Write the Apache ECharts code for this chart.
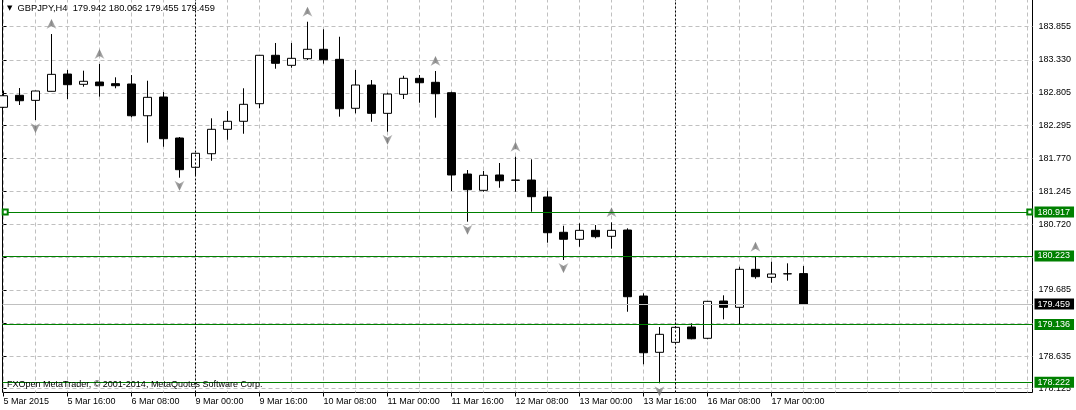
<!DOCTYPE html>
<html><head><meta charset="utf-8">
<script src="https://cdn.jsdelivr.net/npm/echarts@6/dist/echarts.min.js"></script>
<style>html,body{margin:0;padding:0;background:#fff}#c{width:1076px;height:410px}</style>
</head><body><div id="c"></div>
<script>
// ---- data (GBPJPY H4, bar 0 = 5 Mar 2015 00:00) ----
const symbolName = 'GBPJPY,H4';
const open  = [182.578,182.768,182.688,182.831,183.105,182.942,182.978,182.952,182.947,182.444,182.741,182.091,181.627,181.842,182.229,182.356,182.635,183.402,183.243,183.348,183.497,183.338,182.562,182.931,182.482,182.784,183.037,182.974,182.809,181.520,181.262,181.505,181.425,181.425,181.156,180.597,180.486,180.628,180.533,180.633,179.587,178.695,178.853,179.096,178.917,179.508,179.408,180.010,179.883,179.938,179.942];
const high  = [182.841,182.883,182.840,183.739,183.169,183.158,183.264,183.053,183.089,182.999,182.820,182.107,181.853,182.403,182.519,182.879,183.406,183.597,183.597,183.934,183.814,183.696,183.169,183.010,182.809,183.078,183.089,183.153,182.825,181.584,181.568,181.695,181.795,181.753,181.251,180.701,180.739,180.712,180.755,180.660,179.630,179.096,179.111,179.154,179.508,179.598,180.051,180.210,180.131,180.105,180.062];
const low   = [182.566,182.614,182.376,182.828,182.709,182.904,182.746,182.879,182.419,182.017,181.953,181.462,181.505,181.731,182.064,182.159,182.562,183.189,183.205,183.327,183.269,182.429,182.482,182.349,182.191,182.709,182.650,182.413,181.251,180.765,181.240,181.303,181.240,180.923,180.432,180.158,180.368,180.501,180.337,179.338,178.505,178.204,178.842,178.901,178.901,179.218,179.127,179.861,179.798,179.830,179.455];
const close = [182.761,182.682,182.836,183.100,182.936,182.990,182.920,182.920,182.444,182.736,182.080,181.589,181.849,182.229,182.356,182.625,183.402,183.275,183.354,183.497,183.332,182.555,182.931,182.482,182.788,183.037,182.967,182.793,181.505,181.272,181.500,181.414,181.421,181.161,180.590,180.486,180.628,180.527,180.628,179.576,178.688,178.980,179.091,178.910,179.503,179.408,180.010,179.893,179.936,179.940,179.459];
const timeLabels    = ['5 Mar 2015','5 Mar 16:00','6 Mar 08:00','9 Mar 00:00','9 Mar 16:00','10 Mar 08:00','11 Mar 00:00','11 Mar 16:00','12 Mar 08:00','13 Mar 00:00','13 Mar 16:00','16 Mar 08:00','17 Mar 00:00'];
const timeLabelBars = [0,4,8,12,16,20,24,28,32,36,40,44,48];
const gridBars      = [0,2,4,6,8,10,12,14,16,18,20,22,24,26,28,30,32,34,36,38,40,42,44,46,48,50,52,54,56,58,60,62,64];
const priceLabels   = [183.855,183.330,182.805,182.295,181.770,181.245,180.720,179.685,178.635,178.125];
const priceGrid     = [183.855,183.330,182.805,182.295,181.770,181.245,180.720,180.195,179.685,179.160,178.635,178.125];
const levels        = [180.917,180.223,179.136,178.222];
const selectedLevel = 180.917;
const bidPrice      = 179.459;
const upFractals    = [3,6,19,27,32,38,47];
const downFractals  = [2,11,24,29,35,41];
const weekSeparators= [12,42];
const copyright = 'FXOpen MetaTrader, © 2001-2014, MetaQuotes Software Corp.';

// ---- layout ----
const X_MIN = -0.0625, X_MAX = 64.3125, Y_MIN = 178.058, Y_MAX = 184.302;
const FONT = 'Liberation Sans, Arial, sans-serif';
const last = close.length - 1;
const f3 = v => Number(v).toFixed(3);

const candleData = open.map((o, i) => [i, o, close[i], low[i], high[i]]);
const upData = upFractals.map(i => [i, high[i]]);
const downData = downFractals.map(i => [i, low[i]]);

const levelLabel = (bg) => ({
  show: true, position: 'end', distance: 2, formatter: p => f3(p.value),
  color: '#fff', backgroundColor: bg, padding: [1, 4, 0, 3],
  fontSize: 9, fontFamily: FONT, lineHeight: 10
});

const markLineData = [];
levels.forEach(v => markLineData.push({ yAxis: v, lineStyle: { color: '#008000', width: 1, type: 'solid' }, label: levelLabel('#008000') }));
markLineData.push({ yAxis: bidPrice, lineStyle: { color: '#c0c0c0', width: 1, type: 'solid' }, label: levelLabel('#000') });
markLineData.push([
  { coord: [X_MIN + 0.17, selectedLevel], symbol: 'emptyRect', symbolSize: 5 },
  { coord: [X_MAX - 0.17, selectedLevel], symbol: 'emptyRect', symbolSize: 5, lineStyle: { color: '#008000', width: 1, type: 'solid' }, label: { show: false } }
]);
weekSeparators.forEach(b => markLineData.push({ xAxis: b, lineStyle: { color: '#000', width: 1, type: [2, 2] }, label: { show: false } }));

const upPath = 'path://M5,0 L10,10 L5,7 L0,10 Z';
const downPath = 'path://M0,0 L5,3 L10,0 L5,10 Z';
const fractalColor = new echarts.graphic.LinearGradient(0, 0, 1, 0, [
  { offset: 0, color: '#a8a8a8' }, { offset: 0.5, color: '#6e6e6e' }, { offset: 1, color: '#b8b8b8' }
]);

const chart = echarts.init(document.getElementById('c'), null, { renderer: 'canvas' });
chart.setOption({
  animation: false,
  backgroundColor: '#fff',
  title: [
    { text: '{t|▼}  ' + symbolName + '  ' + [open[last], high[last], low[last], close[last]].map(f3).join(' '),
      left: 7, top: 4, padding: 0,
      textStyle: { fontSize: 9.3, fontWeight: 'normal', color: '#000', fontFamily: FONT,
        rich: { t: { fontSize: 7, color: '#000', fontFamily: 'DejaVu Sans' } } } },
    { text: copyright, left: 7, top: 380, padding: 0,
      textStyle: { fontSize: 9, fontWeight: 'normal', color: '#000', fontFamily: FONT } }
  ],
  grid: { left: 2.5, right: 43.5, top: -1.5, bottom: 17.5, show: true, borderColor: '#000', borderWidth: 1,
          backgroundColor: 'transparent', containLabel: false, outerBoundsMode: 'none' },
  xAxis: [
    { type: 'value', min: X_MIN, max: X_MAX, position: 'top',
      axisLine: { show: false }, axisLabel: { show: false },
      axisTick: { show: false, customValues: gridBars },
      splitLine: { show: true, lineStyle: { color: '#c0c0c0', width: 1, type: [4, 3] } } },
    { type: 'value', min: X_MIN, max: X_MAX, position: 'bottom',
      axisLine: { show: false },
      axisTick: { show: true, length: 4, customValues: timeLabelBars, lineStyle: { color: '#000' } },
      axisLabel: { show: true, customValues: timeLabelBars, align: 'left', margin: 5,
        formatter: v => timeLabels[timeLabelBars.indexOf(Math.round(v))] || '',
        color: '#000', fontSize: 9, fontFamily: FONT },
      splitLine: { show: false } }
  ],
  yAxis: {
    type: 'value', position: 'right', min: Y_MIN, max: Y_MAX, scale: true,
    axisLine: { show: false },
    axisTick: { show: true, length: 3, customValues: priceGrid, lineStyle: { color: '#000' } },
    axisLabel: { show: true, customValues: priceLabels, margin: 6, formatter: v => f3(v),
      color: '#000', fontSize: 9, fontFamily: FONT },
    splitLine: { show: true, lineStyle: { color: '#c0c0c0', width: 1, type: [4, 3] } }
  },
  series: [
    { type: 'candlestick', xAxisIndex: 0, yAxisIndex: 0, data: candleData, barWidth: 9,
      itemStyle: { color: '#fff', color0: '#000', borderColor: '#000', borderColor0: '#000', borderWidth: 1 },
      markLine: { silent: true, symbol: ['none', 'none'], precision: 3, animation: false,
        itemStyle: { color: '#008000' },
        emphasis: { disabled: true },
        data: markLineData }
    },
    { type: 'scatter', xAxisIndex: 0, yAxisIndex: 0, data: upData, symbol: upPath, symbolSize: [10, 10],
      symbolOffset: [0, -10], itemStyle: { color: fractalColor }, silent: true, clip: false },
    { type: 'scatter', xAxisIndex: 0, yAxisIndex: 0, data: downData, symbol: downPath, symbolSize: [10, 10],
      symbolOffset: [0, 8], itemStyle: { color: fractalColor }, silent: true, clip: false }
  ]
});
</script></body></html>
